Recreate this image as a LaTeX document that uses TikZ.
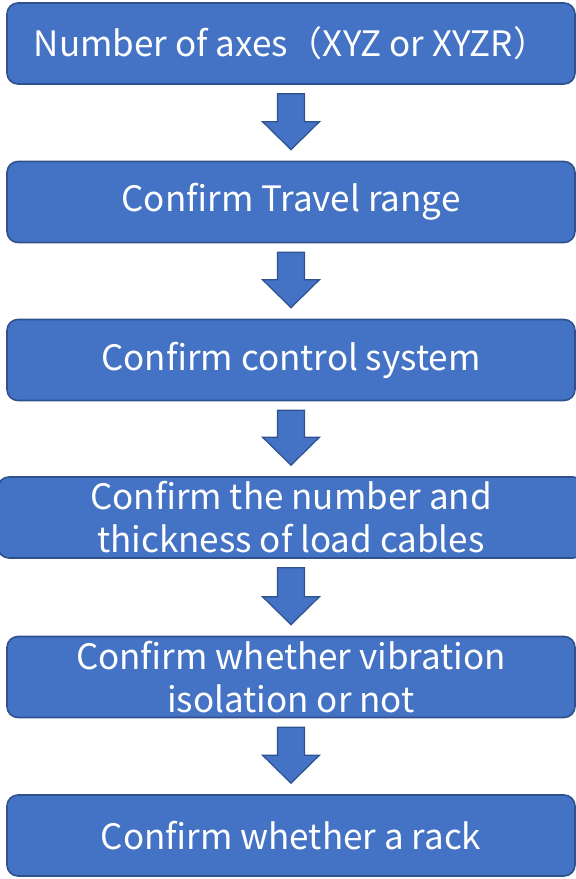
\documentclass[tikz,border=0pt]{standalone}
\usepackage{fontspec}
\setmainfont{Noto Sans CJK SC}
\usepackage{tikz}
\usetikzlibrary{calc,positioning}
\definecolor{boxfill}{RGB}{68,114,196}
\definecolor{boxline}{RGB}{47,82,143}
\tikzset{
  stepbox/.style={draw=boxline,fill=boxfill,line width=1.6pt,rounded corners=11pt,
    minimum width=568pt,minimum height=81pt,text=white,align=center,
    font=\fontsize{35}{43}\selectfont},
  blockarrow/.style={draw=boxline,fill=boxfill,line width=1.2pt,line join=miter}
}
\newcommand{\flowarrow}[2]{%
  \path (#1.south) ++(0,-9) coordinate (aTop);%
  \path (#2.north) ++(0,11) coordinate (aTip);%
  \filldraw[blockarrow] ($(aTop)+(-13.5,0)$) -- ($(aTop)+(13.5,0)$)
    -- ($(aTip)+(13.5,28)$) -- ($(aTip)+(28.5,28)$) -- (aTip)
    -- ($(aTip)+(-28.5,28)$) -- ($(aTip)+(-13.5,28)$) -- cycle;%
}

\begin{document}
\begin{tikzpicture}[x=1pt,y=1pt]
  \useasboundingbox (0,0) rectangle (576,-879);
  \node[stepbox] (axes) at (291,-43.5) {Number of axes（XYZ or XYZR）};
  \node[stepbox] (travel) at (291,-202) {\raisebox{-2pt}{Confirm Travel range}};
  \node[stepbox] (control) at (291,-360) {\raisebox{-2pt}{Confirm control system}};
  \node[stepbox,minimum width=586pt] (cables) at (291,-517.5) {Confirm the number and\\thickness of load cables};
  \node[stepbox] (vibration) at (291,-677) {Confirm whether vibration\\isolation or not};
  \node[stepbox] (rack) at (291,-835.5) {Confirm whether a rack};
  \flowarrow{axes}{travel}
  \flowarrow{travel}{control}
  \flowarrow{control}{cables}
  \flowarrow{cables}{vibration}
  \flowarrow{vibration}{rack}
\end{tikzpicture}
\end{document}
